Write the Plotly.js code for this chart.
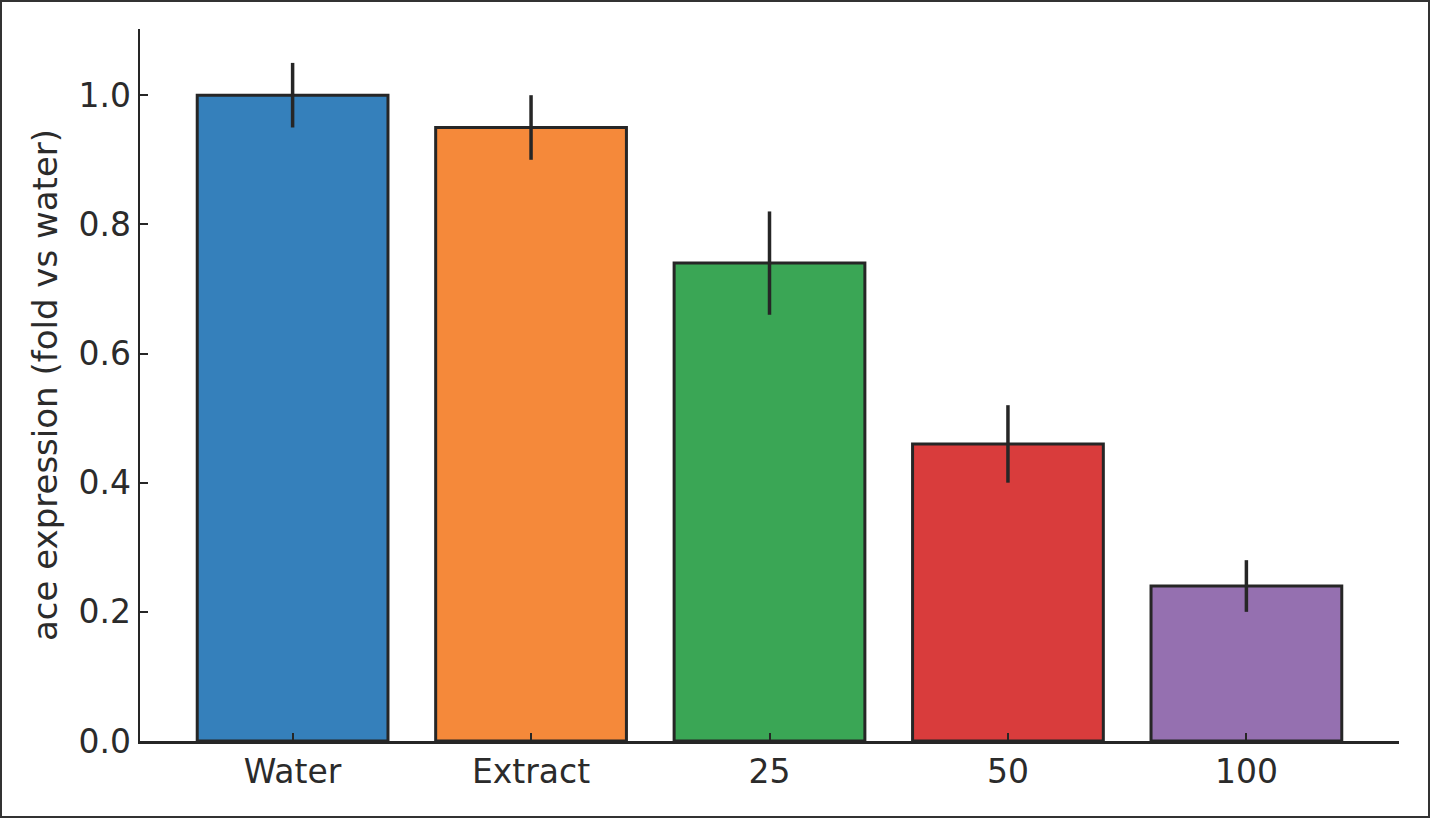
<!DOCTYPE html>
<html>
    <head>
        <meta charset="utf-8">
        <script src="https://cdn.plot.ly/plotly-3.0.1.min.js" charset="utf-8"></script>
        <style>
            *{
                box-sizing: border-box;
                margin: 0px;
                padding: 0px;
            }
            body{ background: white; }
            #grafik{
                width: 1430px;
                height: 818px;
                border: 2px solid #333333;
            }
        </style>
    </head>
    <body>
        <div id="grafik"></div>
    </body>
    <script>
        // данные с картинки
        const categories = ["Water", "Extract", "25", "50", "100"];
        const values = [1.0, 0.95, 0.74, 0.46, 0.24];
        const errors = [0.05, 0.05, 0.08, 0.06, 0.04];
        const barColors = ["#3580bb", "#f5893a", "#3aa655", "#d93c3c", "#9570b0"];

        const dark = "#262626";
        const font = {family: "DejaVu Sans, sans-serif", size: 33, color: "#2b2b2b"};

        let trace = {
            x: [0, 1, 2, 3, 4],
            y: values,
            type: 'bar',
            width: 0.8,
            marker: {
                color: barColors,
                line: {color: dark, width: 3}
            },
            error_y: {
                type: 'data',
                array: errors,
                visible: true,
                color: dark,
                thickness: 3.5,
                width: 0
            },
            hoverinfo: 'none'
        };

        let layout = {
            width: 1426,
            height: 814,
            margin: {l: 138, r: 29, t: 27, b: 75},
            paper_bgcolor: 'white',
            plot_bgcolor: 'white',
            font: font,
            showlegend: false,
            xaxis: {
                range: [-0.64, 4.64],
                tickvals: [0, 1, 2, 3, 4],
                ticktext: categories,
                showline: true,
                linecolor: dark,
                linewidth: 2.5,
                ticks: 'inside',
                ticklen: 8,
                tickwidth: 2,
                tickcolor: dark,
                showgrid: false,
                zeroline: false,
                tickfont: font
            },
            yaxis: {
                range: [0, 1.1025],
                tickvals: [0, 0.2, 0.4, 0.6, 0.8, 1.0],
                ticktext: ["0.0", "0.2", "0.4", "0.6", "0.8", "1.0"],
                showline: true,
                linecolor: dark,
                linewidth: 2.5,
                ticks: 'inside',
                ticklen: 8,
                tickwidth: 2,
                tickcolor: dark,
                showgrid: false,
                zeroline: false,
                tickfont: font,
                title: {
                    text: 'ace expression (fold vs water)',
                    font: {family: "DejaVu Sans, sans-serif", size: 34, color: "#2b2b2b"},
                    standoff: 11
                }
            }
        };

        Plotly.newPlot('grafik', [trace], layout, {displayModeBar: false, staticPlot: true});
    </script>
</html>
